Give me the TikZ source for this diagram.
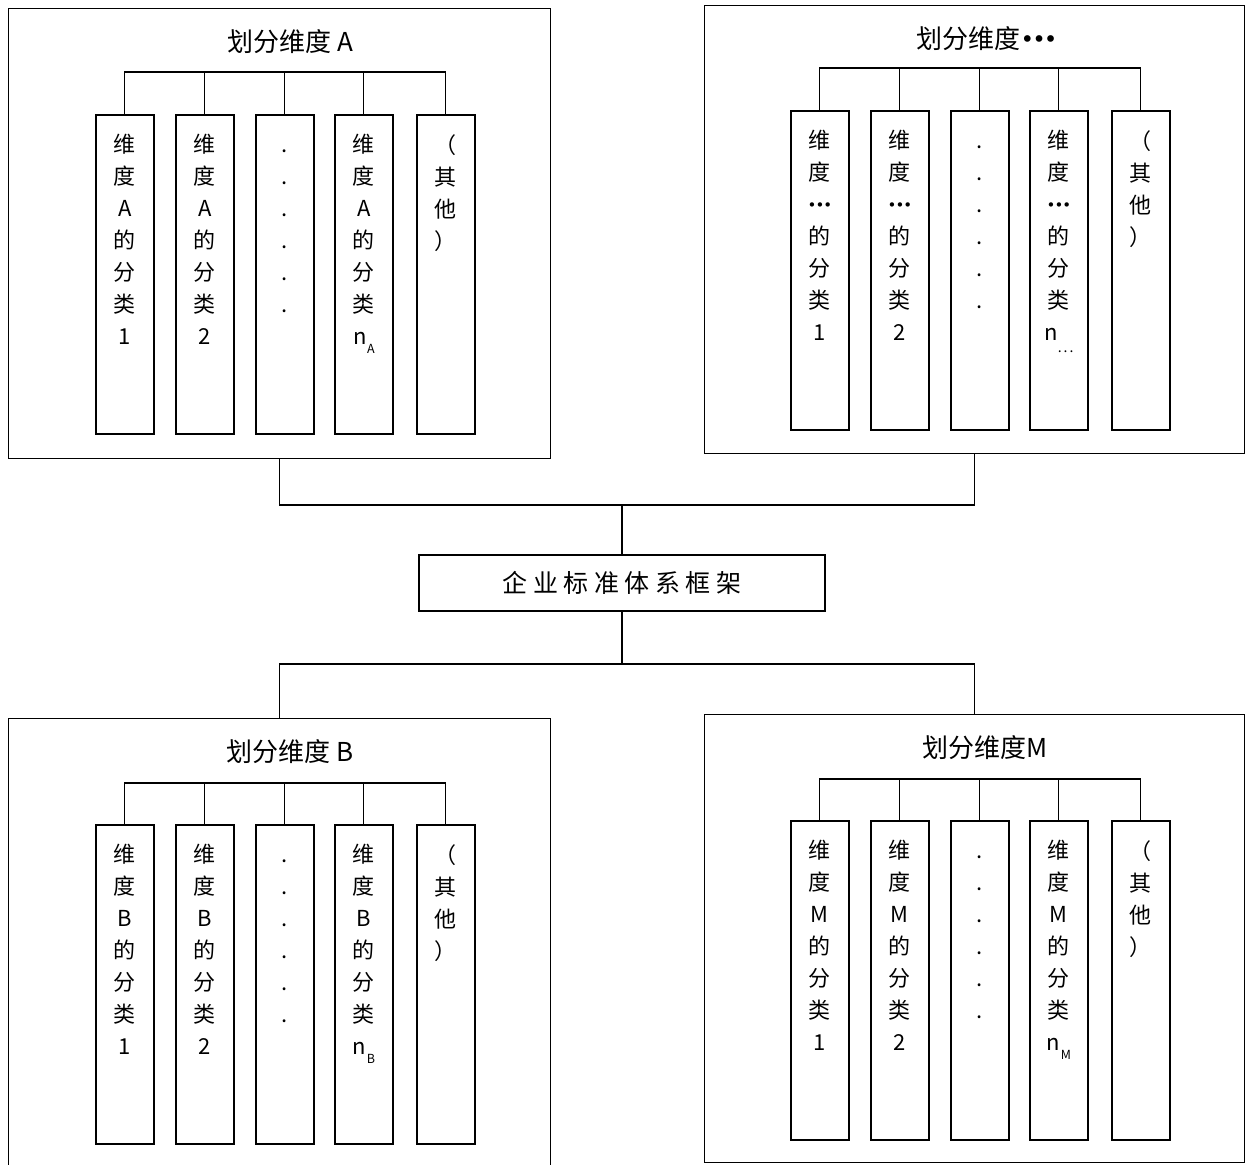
\documentclass[tikz,border=0pt]{standalone}
\usepackage{fontspec}
\newfontfamily\cjk{Noto Sans CJK SC}
\newfontfamily\dvs{DejaVu Sans}
\tikzset{
  outerbox/.style={draw, line width=1.1pt, inner sep=0pt, anchor=north west, minimum width=542pt},
  colbox/.style={draw, line width=1.8pt, inner sep=0pt, anchor=north west, minimum width=58pt, minimum height=319pt},
  coltext/.style={font=\cjk\fontsize{22}{32}\selectfont, align=center, inner sep=0pt, anchor=north},
  titletext/.style={font=\cjk\fontsize{26}{30}\selectfont, inner sep=0pt},
  centerbox/.style={draw, line width=1.1pt, minimum width=406pt, minimum height=56pt, inner sep=0pt, font=\cjk\fontsize{25}{28}\selectfont},
  link/.style={line width=1.1pt},
}
\newcommand\colgroup[6]{%
  \node[colbox] (#1c1) at (#2,#3) {};
  \node[colbox] (#1c2) at (#2+80,#3) {};
  \node[colbox] (#1c3) at (#2+160,#3) {};
  \node[colbox] (#1c4) at (#2+239,#3) {};
  \node[colbox] (#1c5) at (#2+321,#3) {};
  \node[coltext] (#1t1) at ([yshift=-20pt]#1c1.north) {维\\度\\#5\\的\\分\\类\\1};
  \node[coltext] (#1t2) at ([yshift=-20pt]#1c2.north) {维\\度\\#5\\的\\分\\类\\2};
  \node[coltext] (#1t3) at ([yshift=-20pt]#1c3.north) {\vphantom{维}.\\.\\.\\.\\.\\.};
  \node[coltext] (#1t4) at ([yshift=-20pt]#1c4.north) {维\\度\\#5\\的\\分\\类\\n#6};
  \node[coltext] (#1t5) at ([yshift=-20pt]#1c5.north) {（\\其\\他\\）};
  \coordinate (#1bus) at (#2+190,#4);
  \draw[link] (#1c1.north) |- (#1bus) -| (#1c5.north);
  \draw[link] (#1c2.north) -- (#1c2.north |- #1bus);
  \draw[link] (#1c3.north) -- (#1c3.north |- #1bus);
  \draw[link] (#1c4.north) -- (#1c4.north |- #1bus);
}
\newcommand\subA[1]{\kern0.5pt\raisebox{-8.5pt}{\fontsize{12.5}{12.5}\selectfont #1}}
\begin{document}
\begin{tikzpicture}[x=1pt,y=-1pt]
\useasboundingbox (0,0) rectangle (1246,1164);
\fill[white] (0,0) rectangle (1246,1164);

% top left: dimension A
\node[outerbox, minimum height=450pt] (A) at (8,8) {};
\node[titletext] (At) at (290,42) {划分维度 A};
\colgroup{a}{95}{114}{72}{A}{\subA{A}}

% top right: dimension ...
\node[outerbox, minimum width=540pt, minimum height=448pt] (D) at (704,5) {};
\node[titletext] (Dt) at (987,39) {划分维度\raisebox{1.5pt}{\dvs\fontsize{23}{23}\selectfont •\kern-2pt•\kern-2pt•}};
\colgroup{d}{790}{110}{68}{\raisebox{2pt}{\dvs\fontsize{15}{15}\selectfont •\kern-1pt•\kern-1pt•}}{\raisebox{-12pt}{\fontsize{14}{14}\selectfont .\kern2pt.\kern2pt.}}

% centre
\node[centerbox] (F) at (622,583) {企\hspace{5.5pt}业\hspace{5.5pt}标\hspace{5.5pt}准\hspace{5.5pt}体\hspace{5.5pt}系\hspace{5.5pt}框\hspace{5.5pt}架};

% bottom left: dimension B
\node[outerbox, minimum height=470pt] (B) at (8,718) {};
\node[titletext] (Bt) at (290,752) {划分维度 B};
\colgroup{b}{95}{824}{783}{B}{\subA{B}}

% bottom right: dimension M
\node[outerbox, minimum width=540pt, minimum height=448pt] (M) at (704,714) {};
\node[titletext] (Mt) at (985,748) {划分维度M};
\colgroup{m}{790}{820}{779}{M}{\subA{M}}

% connectors
\coordinate (jt) at (622,505);
\coordinate (jb) at (622,664);
\draw[link] (A.south) |- (jt) -| (D.south);
\draw[link] (jt) -- (F.north);
\draw[link] (F.south) -- (jb);
\draw[link] (B.north) |- (jb) -| (M.north);
\end{tikzpicture}
\end{document}
